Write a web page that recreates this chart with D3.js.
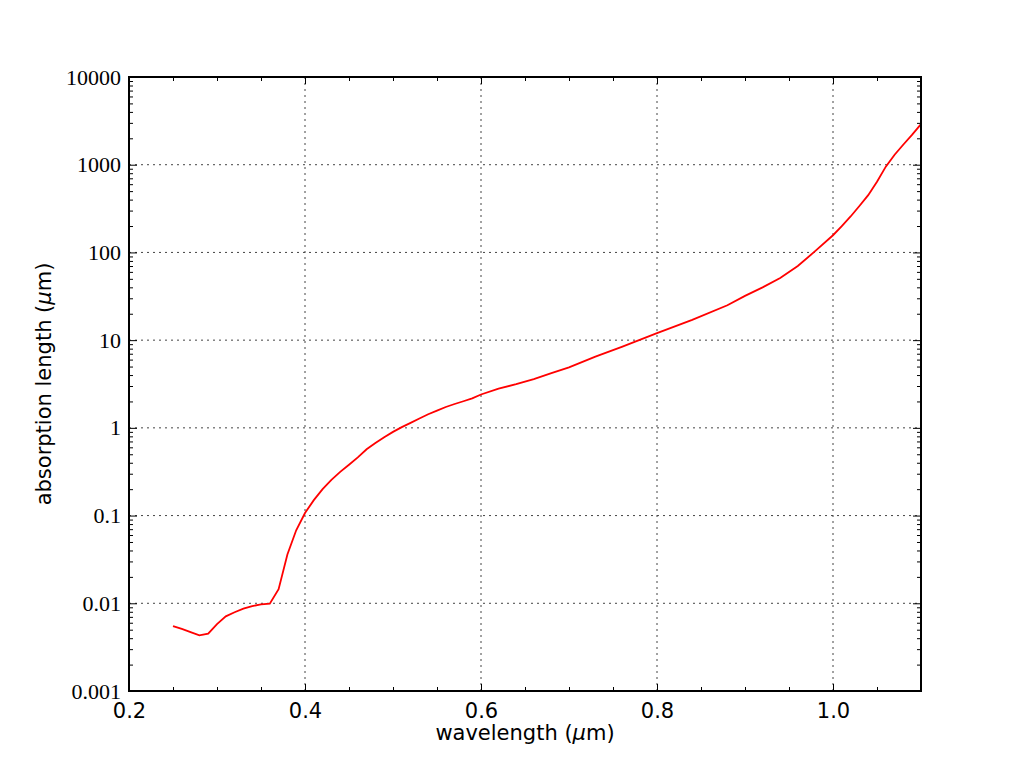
<!DOCTYPE html>
<html>
<head>
<meta charset="utf-8">
<script src="https://cdn.jsdelivr.net/npm/d3@7"></script>
<style>
  body { margin: 0; background: #fff; }
</style>
</head>
<body>
<svg id="chart"></svg>
<script>
// wavelength in micrometres
const wavelength = [0.25, 0.26, 0.27, 0.28, 0.29, 0.30, 0.31, 0.32, 0.33, 0.34,
  0.35, 0.36, 0.37, 0.38, 0.39, 0.40, 0.41, 0.42, 0.43, 0.44,
  0.45, 0.46, 0.47, 0.48, 0.49, 0.50, 0.51, 0.52, 0.53, 0.54,
  0.55, 0.56, 0.57, 0.58, 0.59, 0.60, 0.62, 0.64, 0.66, 0.68,
  0.70, 0.73, 0.76, 0.80, 0.84, 0.88, 0.90, 0.92, 0.94, 0.96,
  0.98, 1.00, 1.01, 1.02, 1.03, 1.04, 1.05, 1.06, 1.07, 1.08, 1.09, 1.10];

// absorption length in micrometres
const absorptionLength = [0.0055, 0.0051, 0.0047, 0.0043, 0.0045, 0.0058, 0.0071, 0.0079, 0.0087, 0.0093,
  0.0097, 0.0099, 0.0145, 0.036, 0.068, 0.107, 0.150, 0.200, 0.255, 0.315,
  0.38, 0.46, 0.57, 0.67, 0.78, 0.90, 1.02, 1.14, 1.28, 1.43,
  1.57, 1.73, 1.87, 2.01, 2.17, 2.40, 2.80, 3.15, 3.60, 4.20,
  4.90, 6.50, 8.4, 12.0, 17.0, 25, 32, 40, 51, 70,
  104, 157, 200, 257, 338, 450, 640, 950, 1300, 1700, 2200, 2900];

const xTicks = [0.2, 0.4, 0.6, 0.8, 1.0];
const xMinorTicks = [0.25, 0.3, 0.35, 0.45, 0.5, 0.55, 0.65, 0.7, 0.75, 0.85, 0.9, 0.95, 1.05];
const yTicks = [0.001, 0.01, 0.1, 1, 10, 100, 1000, 10000];
const yTickLabels = ['0.001', '0.01', '0.1', '1', '10', '100', '1000', '10000'];

const svgWidth = 1024;
const svgHeight = 768;
const margin = { top: 77, right: 103, bottom: 77, left: 129 };
const width = svgWidth - margin.left - margin.right;
const height = svgHeight - margin.top - margin.bottom;

const svg = d3.select('#chart')
  .attr('width', svgWidth)
  .attr('height', svgHeight);

const g = svg.append('g')
  .attr('transform', `translate(${margin.left},${margin.top})`);

const x = d3.scaleLinear().domain([0.2, 1.1]).range([0, width]);
const y = d3.scaleLog().domain([0.001, 10000]).range([height, 0]);

// minor log ticks (2..9 in each decade)
const yMinorTicks = [];
yTicks.slice(0, -1).forEach(d => {
  for (let k = 2; k <= 9; k++) yMinorTicks.push(d * k);
});

// grid
g.append('g')
  .selectAll('line')
  .data(xTicks.filter(d => d > 0.2))
  .join('line')
  .attr('x1', d => x(d)).attr('x2', d => x(d))
  .attr('y1', 0).attr('y2', height)
  .attr('stroke', '#444')
  .attr('stroke-width', 1)
  .attr('stroke-dasharray', '2,4');

g.append('g')
  .selectAll('line')
  .data(yTicks.slice(1, -1))
  .join('line')
  .attr('x1', 0).attr('x2', width)
  .attr('y1', d => y(d)).attr('y2', d => y(d))
  .attr('stroke', '#444')
  .attr('stroke-width', 1)
  .attr('stroke-dasharray', '2,4');

// data line
const line = d3.line()
  .x((d, i) => x(wavelength[i]))
  .y(d => y(d));

g.append('path')
  .datum(absorptionLength)
  .attr('fill', 'none')
  .attr('stroke', '#ff0000')
  .attr('stroke-width', 1.8)
  .attr('d', line);

// axes with inward ticks on all four sides
const tickStyle = sel => {
  sel.select('.domain').remove();
  sel.selectAll('line').attr('stroke', '#000').attr('stroke-width', 1);
};

g.append('g')
  .attr('transform', `translate(0,${height})`)
  .call(d3.axisBottom(x).tickValues(xTicks).tickSizeInner(-7).tickSizeOuter(0).tickPadding(12).tickFormat(d3.format('.1f')))
  .call(tickStyle)
  .selectAll('text')
  .attr('font-family', 'DejaVu Sans')
  .attr('font-size', 21)
  .attr('fill', '#000');

g.append('g')
  .attr('transform', `translate(0,${height})`)
  .call(d3.axisBottom(x).tickValues(xMinorTicks).tickSizeInner(-4).tickSizeOuter(0).tickFormat(''))
  .call(tickStyle);

g.append('g')
  .call(d3.axisTop(x).tickValues(xTicks).tickSizeInner(-7).tickSizeOuter(0).tickFormat(''))
  .call(tickStyle);

g.append('g')
  .call(d3.axisTop(x).tickValues(xMinorTicks).tickSizeInner(-4).tickSizeOuter(0).tickFormat(''))
  .call(tickStyle);

g.append('g')
  .call(d3.axisLeft(y).tickValues(yTicks).tickSizeInner(-8).tickSizeOuter(0).tickPadding(8)
    .tickFormat((d, i) => yTickLabels[i]))
  .call(tickStyle)
  .selectAll('text')
  .attr('font-family', 'Liberation Serif')
  .attr('font-size', 22)
  .attr('fill', '#000');

g.append('g')
  .call(d3.axisLeft(y).tickValues(yMinorTicks).tickSizeInner(-4).tickSizeOuter(0).tickFormat(''))
  .call(tickStyle);

g.append('g')
  .attr('transform', `translate(${width},0)`)
  .call(d3.axisRight(y).tickValues(yTicks).tickSizeInner(-8).tickSizeOuter(0).tickFormat(''))
  .call(tickStyle);

g.append('g')
  .attr('transform', `translate(${width},0)`)
  .call(d3.axisRight(y).tickValues(yMinorTicks).tickSizeInner(-4).tickSizeOuter(0).tickFormat(''))
  .call(tickStyle);

// frame
g.append('rect')
  .attr('width', width)
  .attr('height', height)
  .attr('fill', 'none')
  .attr('stroke', '#000')
  .attr('stroke-width', 2);

// axis labels
svg.append('text')
  .attr('x', margin.left + width / 2)
  .attr('y', 740)
  .attr('text-anchor', 'middle')
  .attr('font-family', 'DejaVu Sans')
  .attr('font-size', 21)
  .html('wavelength (<tspan font-style="italic">μ</tspan>m)');

svg.append('text')
  .attr('transform', `translate(51,${margin.top + height / 2}) rotate(-90)`)
  .attr('text-anchor', 'middle')
  .attr('font-family', 'DejaVu Sans')
  .attr('font-size', 21)
  .html('absorption length (<tspan font-style="italic">μ</tspan>m)');
</script>
</body>
</html>
